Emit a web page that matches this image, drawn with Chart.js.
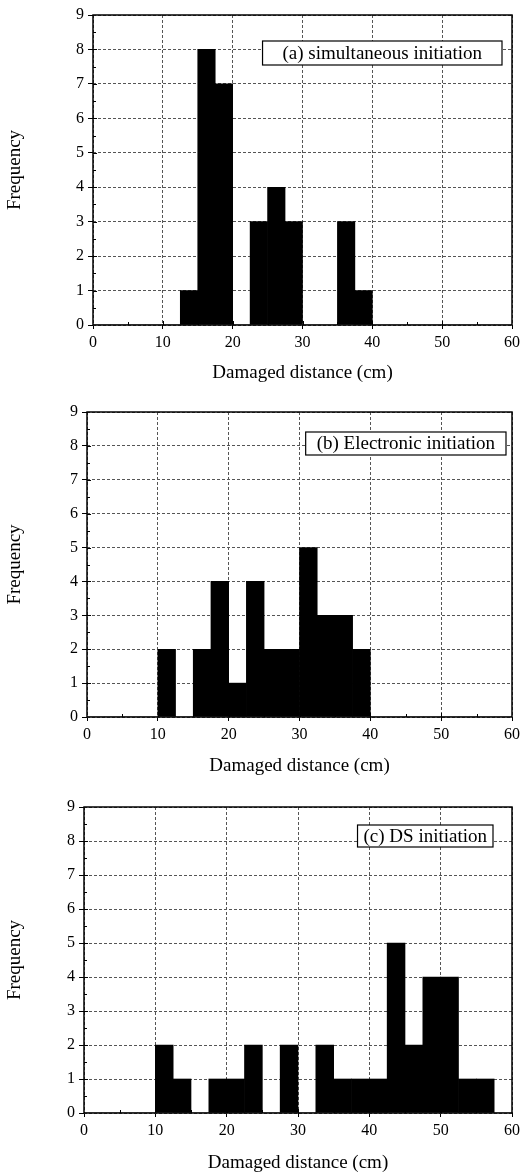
<!DOCTYPE html>
<html>
<head>
<meta charset="utf-8">
<script src="https://cdn.jsdelivr.net/npm/chart.js@4.4.1/dist/chart.umd.min.js"></script>
<style>
  html, body { margin: 0; padding: 0; background: #fff; }
  body { width: 524px; height: 1174px; position: relative; overflow: hidden; }
  .panel { position: absolute; left: 0; width: 524px; }
</style>
</head>
<body>
<div class="panel" id="pa" style="top:0;height:390px"><canvas id="ca"></canvas></div>
<div class="panel" id="pb" style="top:390px;height:390px"><canvas id="cb"></canvas></div>
<div class="panel" id="pc" style="top:780px;height:394px"><canvas id="cc"></canvas></div>
<script>
// Bin centres (cm), bin width 2.5 cm, 0 to 60 cm
const binCenters = [1.25, 3.75, 6.25, 8.75, 11.25, 13.75, 16.25, 18.75, 21.25, 23.75, 26.25, 28.75,
                    31.25, 33.75, 36.25, 38.75, 41.25, 43.75, 46.25, 48.75, 51.25, 53.75, 56.25, 58.75];
// Frequencies per bin
const freqSimultaneous = [0, 0, 0, 0, 0, 1, 8, 7, 0, 3, 4, 3, 0, 0, 3, 1, 0, 0, 0, 0, 0, 0, 0, 0];
const freqElectronic   = [0, 0, 0, 0, 2, 0, 2, 4, 1, 4, 2, 2, 5, 3, 3, 2, 0, 0, 0, 0, 0, 0, 0, 0];
const freqDS           = [0, 0, 0, 0, 2, 1, 0, 1, 1, 2, 0, 2, 0, 2, 1, 1, 1, 5, 2, 4, 4, 1, 1, 0];
// Labels
const panelLabels = ['(a) simultaneous initiation', '(b) Electronic initiation', '(c) DS initiation'];
const xTitle = 'Damaged distance (cm)';
const yTitle = 'Frequency';
const xTickValues = [0, 10, 20, 30, 40, 50, 60];
const yTickValues = [0, 1, 2, 3, 4, 5, 6, 7, 8, 9];

const FONT = "'Liberation Serif', 'DejaVu Serif', serif";

const framePlugin = {
  id: 'frame',
  afterDraw(chart, args, opts) {
    const ctx = chart.ctx;
    const a = chart.chartArea;
    const xs = chart.scales.x, ys = chart.scales.y;
    ctx.save();
    // minor ticks (inward)
    ctx.strokeStyle = '#000';
    ctx.lineWidth = 1;
    ctx.beginPath();
    for (let v = 0.5; v < 9; v += 0.5) {
      const y = Math.round(ys.getPixelForValue(v)) + 0.5;
      const len = (v % 1 === 0) ? 4 : 3;
      ctx.moveTo(a.left, y); ctx.lineTo(a.left + len, y);
    }
    for (let v = 5; v < 60; v += 5) {
      const x = Math.round(xs.getPixelForValue(v)) + 0.5;
      const len = (v % 10 === 0) ? 4 : 3;
      ctx.moveTo(x, a.bottom); ctx.lineTo(x, a.bottom - len);
    }
    ctx.stroke();
    // frame
    ctx.lineWidth = 1.5;
    ctx.strokeRect(a.left, a.top, a.right - a.left, a.bottom - a.top);
    // annotation label box
    ctx.font = "19px " + FONT;
    ctx.textBaseline = 'middle';
    ctx.textAlign = 'center';
    const tw = ctx.measureText(opts.text).width;
    const bw = tw + 2 * opts.padX, bh = opts.h;
    const bx = a.right - opts.right - bw;
    const by = a.top + opts.top;
    ctx.fillStyle = '#fff';
    ctx.fillRect(bx, by, bw, bh);
    ctx.lineWidth = 1.2;
    ctx.strokeRect(bx, by, bw, bh);
    ctx.fillStyle = '#000';
    ctx.fillText(opts.text, bx + bw / 2, by + bh / 2 + 1);
    ctx.restore();
  }
};

function makeChart(id, data, label, cfg) {
  const points = binCenters.map((c, i) => ({ x: c, y: data[i] }));
  return new Chart(document.getElementById(id), {
    type: 'bar',
    data: {
      datasets: [{
        data: points,
        backgroundColor: '#000',
        borderWidth: 0,
        barPercentage: 1.0,
        categoryPercentage: 1.0
      }]
    },
    plugins: [framePlugin],
    options: {
      responsive: true,
      maintainAspectRatio: false,
      animation: false,
      layout: { padding: { left: 0, right: cfg.right, top: cfg.top, bottom: 0 } },
      plugins: {
        legend: { display: false },
        tooltip: { enabled: false },
        frame: { text: label, right: cfg.boxRight, top: cfg.boxTop, padX: cfg.boxPad, h: cfg.boxH }
      },
      scales: {
        x: {
          type: 'linear',
          offset: false,
          min: 0, max: 60,
          afterBuildTicks: (s) => { s.ticks = xTickValues.map(v => ({ value: v })); },
          ticks: { color: '#000', font: { family: FONT, size: 16 }, padding: 4, maxRotation: 0 },
          grid: { offset: false, color: '#555', lineWidth: 1, tickLength: 4, tickColor: '#000', tickBorderDash: [] },
          border: { display: false, dash: [3, 2] },
          title: { display: true, text: xTitle, color: '#000', font: { family: FONT, size: 19 }, padding: { top: 0, bottom: cfg.xTitlePad } },
          afterFit: (s) => { s.height = cfg.xAxisH; }
        },
        y: {
          type: 'linear',
          min: 0, max: 9,
          afterBuildTicks: (s) => { s.ticks = yTickValues.map(v => ({ value: v })); },
          ticks: { color: '#000', font: { family: FONT, size: 16 }, padding: 4 },
          grid: { offset: false, color: '#555', lineWidth: 1, tickLength: 5, tickColor: '#000', tickBorderDash: [] },
          border: { display: false, dash: [3, 2] },
          title: { display: true, text: yTitle, color: '#000', font: { family: FONT, size: 19 }, padding: { top: 4, bottom: 0 } },
          afterFit: (s) => { s.width = cfg.left; }
        }
      }
    }
  });
}

const ca = makeChart('ca', freqSimultaneous, panelLabels[0],
  { left: 93, right: 11, top: 15, xAxisH: 65, xTitlePad: 6, boxRight: 10, boxTop: 26, boxPad: 20, boxH: 24 });
const cb = makeChart('cb', freqElectronic, panelLabels[1],
  { left: 87, right: 11, top: 22, xAxisH: 63, xTitlePad: 3, boxRight: 6, boxTop: 20, boxPad: 11, boxH: 23 });
const cc = makeChart('cc', freqDS, panelLabels[2],
  { left: 84, right: 11, top: 27, xAxisH: 61, xTitlePad: 0, boxRight: 19, boxTop: 18, boxPad: 6, boxH: 22 });
</script>
</body>
</html>
